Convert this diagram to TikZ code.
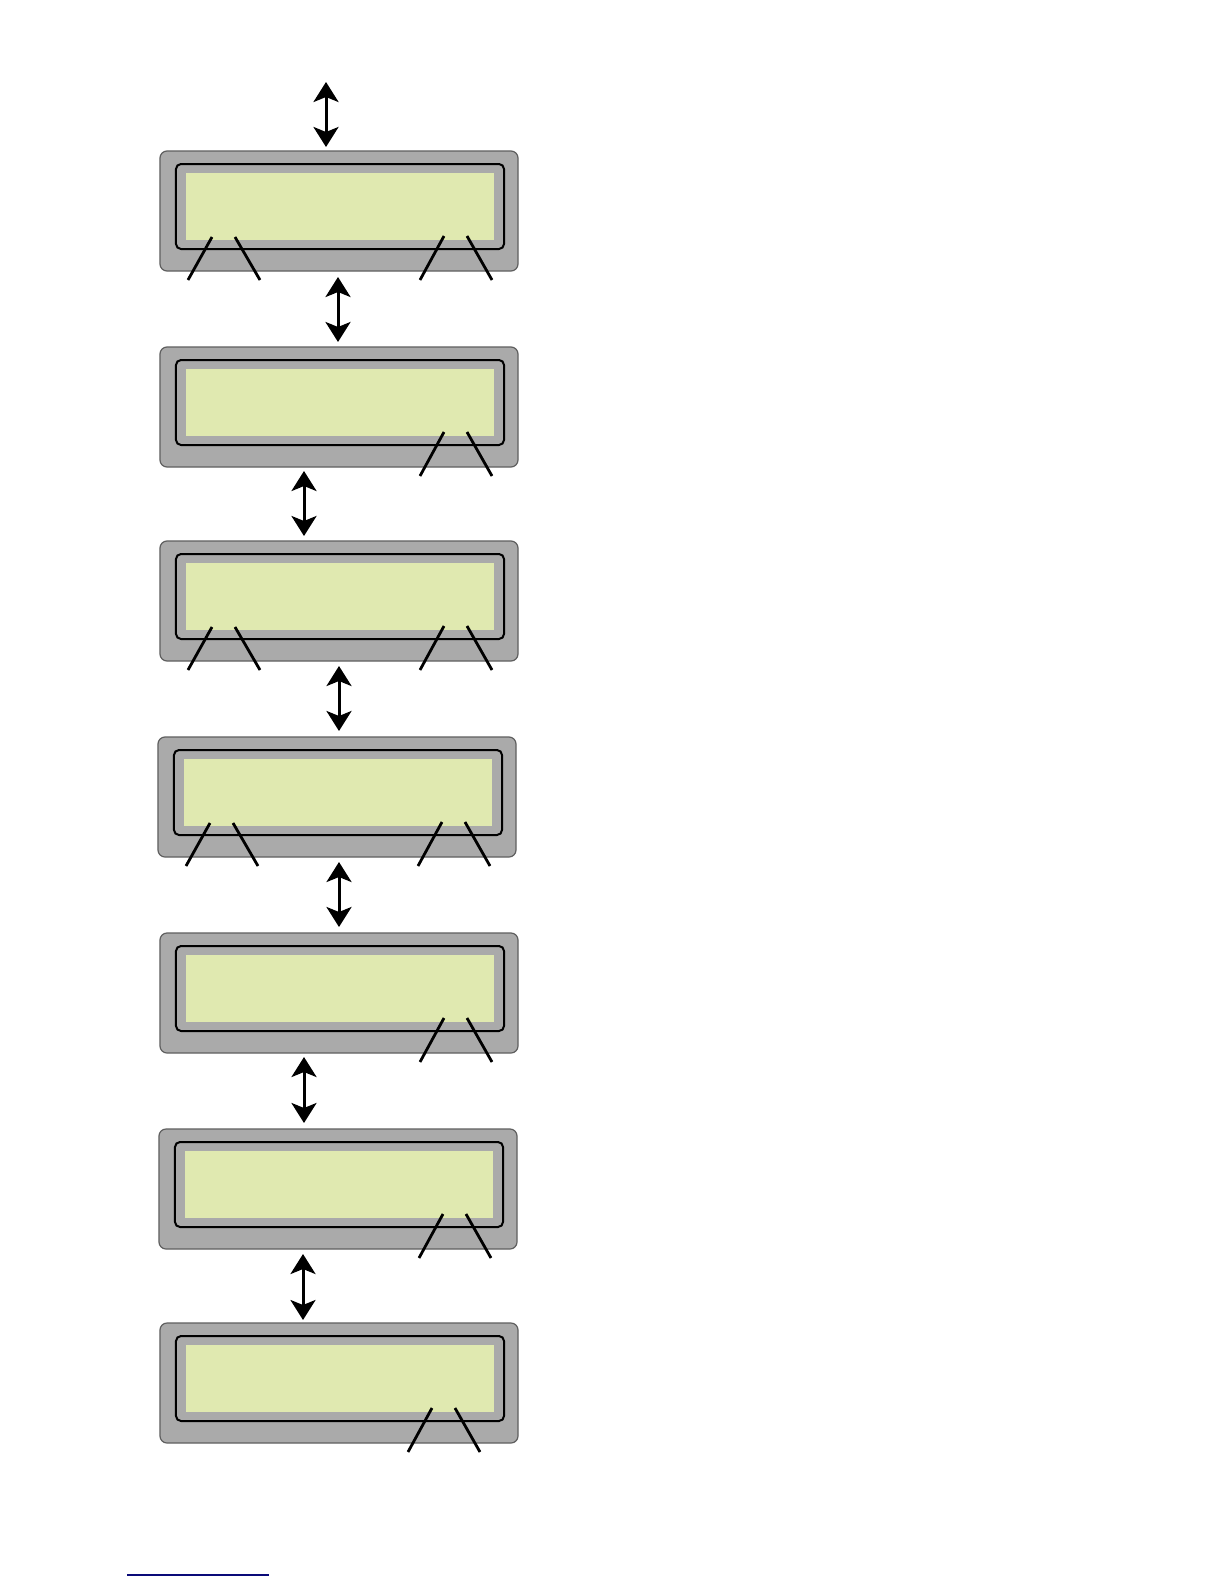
\documentclass[tikz,border=0pt]{standalone}
\usetikzlibrary{arrows.meta}
\definecolor{lcdgray}{RGB}{170,170,170}
\definecolor{lcdedge}{RGB}{95,95,95}
\definecolor{lcdgreen}{RGB}{224,233,176}
\definecolor{rulenavy}{RGB}{10,10,120}
\tikzset{
  outerbox/.style={draw=lcdedge, line width=0.6bp, fill=lcdgray, rounded corners=3.5bp,
    minimum width=179bp, minimum height=60bp, inner sep=0pt, outer sep=0pt},
  innerbox/.style={draw=black, line width=1bp, fill=lcdgray, rounded corners=2.5bp,
    minimum width=164bp, minimum height=42.5bp, inner sep=0pt},
  screenbox/.style={fill=lcdgreen, minimum width=154bp, minimum height=33.5bp, inner sep=0pt},
  tick/.style={draw=black, line width=1.4bp},
  dblarrow/.style={draw=black, line width=1.5bp, {Stealth[length=10bp,width=12.5bp,inset=2.5bp]}-{Stealth[length=10bp,width=12.5bp,inset=2.5bp]}}
}
\newcommand\lcddisplay[3]{%
  \node[outerbox] (#1) at (#2+179,#3+60) {};
  \node[innerbox] (#1i) at (#2+180,#3+55.5) {};
  \node[screenbox] (#1s) at (#2+180,#3+55.5) {};
}
\newcommand\leftpair[2]{%
  \draw[tick] (#1+52,#2+86) -- (#1+28,#2+129);
  \draw[tick] (#1+75,#2+86) -- (#1+100,#2+129);
}
\newcommand\rightpair[2]{%
  \draw[tick] (#1+284,#2+85) -- (#1+260,#2+129);
  \draw[tick] (#1+307,#2+85) -- (#1+332,#2+129);
}
\begin{document}
\begin{tikzpicture}[x=0.5bp,y=-0.5bp]
\useasboundingbox[fill=white] (0,0) rectangle (1224,1584);
% displays
\lcddisplay{d1}{160}{151}
\lcddisplay{d2}{160}{347}
\lcddisplay{d3}{160}{541}
\lcddisplay{d4}{158}{737}
\lcddisplay{d5}{160}{933}
\lcddisplay{d6}{159}{1129}
\lcddisplay{d7}{160}{1323}
% tick marks
\leftpair{160}{151}\rightpair{160}{151}
\rightpair{160}{347}
\leftpair{160}{541}\rightpair{160}{541}
\leftpair{158}{737}\rightpair{158}{737}
\rightpair{160}{933}
\rightpair{159}{1129}
\rightpair{148}{1323}
% arrow end points
\coordinate (a0t) at (326,82);   \coordinate (a0b) at (326,147);
\coordinate (a1t) at (338,277);  \coordinate (a1b) at (338,342);
\coordinate (a2t) at (304,471);  \coordinate (a2b) at (304,536);
\coordinate (a3t) at (339,666);  \coordinate (a3b) at (339,731);
\coordinate (a4t) at (339,862);  \coordinate (a4b) at (339,927);
\coordinate (a5t) at (304,1057); \coordinate (a5b) at (304,1123);
\coordinate (a6t) at (303,1254); \coordinate (a6b) at (303,1320);
\draw[dblarrow] (a0t) -- (a0b);
\draw[dblarrow] (a1t) -- (a1b);
\draw[dblarrow] (a2t) -- (a2b);
\draw[dblarrow] (a3t) -- (a3b);
\draw[dblarrow] (a4t) -- (a4b);
\draw[dblarrow] (a5t) -- (a5b);
\draw[dblarrow] (a6t) -- (a6b);
% footnote rule
\coordinate (r1) at (127,1575); \coordinate (r2) at (269,1575);
\draw[rulenavy, line width=0.6bp] (r1) -- (r2);
\end{tikzpicture}
\end{document}
